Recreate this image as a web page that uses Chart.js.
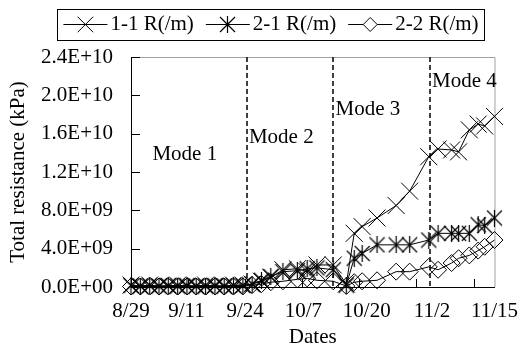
<!DOCTYPE html>
<html>
<head>
<meta charset="utf-8">
<script src="https://cdn.jsdelivr.net/npm/chart.js@4.4.1/dist/chart.umd.min.js"></script>
<style>
html, body { margin: 0; padding: 0; background: #fff; }
#wrap { width: 530px; height: 351px; }
</style>
</head>
<body>
<div id="wrap"><canvas id="myChart" width="530" height="351"></canvas></div>
<script>
// days counted from 8/29
const days = [0, 2, 4, 6, 8, 10, 12, 14, 16, 18, 20, 22, 24,
    26, 28, 30, 32.6, 35.7, 37.8, 39.9, 43.4, 46.2, 47.9, 49.6, 52.8,
    56.9, 59.8, 63.9, 65.9, 68.8, 70.3, 72.6, 74.5, 75.9, 78];

const r11 = [0.2e9, 0.1e9, 0.2e9, 0.1e9, 0.1e9, 0.2e9, 0.1e9, 0.1e9, 0.2e9, 0.1e9, 0.1e9, 0.2e9, 0.2e9,
    0.3e9, 0.6e9, 1.0e9, 1.8e9, 1.9e9, 1.6e9, 2.3e9, 2.3e9, 0.3e9, 5.6e9, 6.3e9, 7.2e9,
    8.5e9, 10.0e9, 13.6e9, 14.4e9, 14.3e9, 14.1e9, 16.4e9, 17.0e9, 16.8e9, 17.8e9];

const r21 = [0.15e9, 0.1e9, 0.15e9, 0.1e9, 0.15e9, 0.1e9, 0.15e9, 0.1e9, 0.1e9, 0.15e9, 0.1e9, 0.15e9, 0.15e9,
    0.3e9, 0.7e9, 1.1e9, 1.6e9, 1.7e9, 1.9e9, 2.0e9, 1.8e9, 0.2e9, 3.0e9, 3.5e9, 4.4e9,
    4.4e9, 4.4e9, 4.9e9, 5.6e9, 5.6e9, 5.6e9, 5.6e9, 6.5e9, 6.4e9, 7.2e9];

const r22 = [0.05e9, 0.05e9, 0.05e9, 0.05e9, 0.05e9, 0.05e9, 0.05e9, 0.05e9, 0.05e9, 0.05e9, 0.05e9, 0.05e9, 0.05e9,
    0.2e9, 0.3e9, 0.5e9, 0.6e9, 0.8e9, 0.9e9, 0.7e9, 0.6e9, 0.1e9, 0.5e9, 0.6e9, 0.7e9,
    1.6e9, 1.6e9, 2.1e9, 1.8e9, 2.5e9, 3.0e9, 3.3e9, 3.8e9, 4.2e9, 4.9e9];

const seriesNames = ["1-1 R(/m)", "2-1 R(/m)", "2-2 R(/m)"];

const tickDays = [0, 11.9, 24.5, 37, 50.6, 64.6, 78];
const tickLabels = ["8/29", "9/11", "9/24", "10/7", "10/20", "11/2", "11/15"];
const tickMarkDays = [12.25, 24.5, 36.75, 49, 61.25, 73.5];

const modeNames = ["Mode 1", "Mode 2", "Mode 3", "Mode 4"];
const modeBounds = [24.9, 43.4, 64.1];
// where each mode label sits (day, value)
const modeLabelAt = [[4.6, 13.8e9], [25.3, 15.6e9], [43.9, 18.5e9], [64.6, 21.4e9]];

const FONT = "Liberation Serif";

function asterisk(h) {
    const s = 2 * h + 1;
    const c = document.createElement("canvas");
    c.width = s;
    c.height = s;
    const g = c.getContext("2d");
    const m = s / 2;
    g.strokeStyle = "#000";
    g.lineWidth = 1.2;
    g.beginPath();
    g.moveTo(m - h + 0.5, m - h + 0.5); g.lineTo(m + h - 0.5, m + h - 0.5);
    g.moveTo(m + h - 0.5, m - h + 0.5); g.lineTo(m - h + 0.5, m + h - 0.5);
    g.moveTo(m, 0); g.lineTo(m, s);
    g.stroke();
    return c;
}
const starImg = asterisk(8);

function sci(v) {
    if (v === 0) return "0.0E+00";
    const parts = v.toExponential(1).split("e");
    const e = parseInt(parts[1], 10);
    return parts[0] + "E" + (e < 0 ? "-" : "+") + String(Math.abs(e)).padStart(2, "0");
}

function pts(vals) {
    return days.map((d, i) => ({ x: d, y: vals[i] }));
}

function drawMarker(ctx, style, x, y, r) {
    ctx.beginPath();
    if (style === "crossRot") {
        const o = r * Math.SQRT1_2;
        ctx.moveTo(x - o, y - o); ctx.lineTo(x + o, y + o);
        ctx.moveTo(x + o, y - o); ctx.lineTo(x - o, y + o);
        ctx.stroke();
    } else if (style === "rectRot") {
        ctx.moveTo(x - r, y); ctx.lineTo(x, y - r); ctx.lineTo(x + r, y); ctx.lineTo(x, y + r);
        ctx.closePath();
        ctx.fillStyle = "#fff";
        ctx.fill();
        ctx.stroke();
    } else {
        ctx.drawImage(style, Math.round(x - style.width / 2), Math.round(y - style.height / 2));
    }
}

const decor = {
    id: "decor",
    beforeDatasetsDraw(chart) {
        const { ctx, chartArea: a, scales: { x, y } } = chart;
        ctx.save();
        // light frame top / right
        ctx.strokeStyle = "#a0a0a0";
        ctx.lineWidth = 1;
        ctx.beginPath();
        ctx.moveTo(a.left, a.top + 0.5);
        ctx.lineTo(a.right + 0.5, a.top + 0.5);
        ctx.lineTo(a.right + 0.5, a.bottom);
        ctx.stroke();

        // mode boundaries
        ctx.strokeStyle = "#000";
        ctx.lineWidth = 1.5;
        ctx.setLineDash([5, 3]);
        modeBounds.forEach((d) => {
            const px = Math.round(x.getPixelForValue(d));
            ctx.beginPath();
            ctx.moveTo(px, a.top);
            ctx.lineTo(px, a.bottom);
            ctx.stroke();
        });
        ctx.setLineDash([]);

        // inward tick marks
        ctx.lineWidth = 1;
        y.ticks.forEach((t) => {
            const py = Math.round(y.getPixelForValue(t.value)) + 0.5;
            ctx.beginPath();
            ctx.moveTo(a.left, py);
            ctx.lineTo(a.left + 9, py);
            ctx.stroke();
        });
        tickMarkDays.forEach((d) => {
            const px = Math.round(x.getPixelForValue(d)) + 0.5;
            ctx.beginPath();
            ctx.moveTo(px, a.bottom);
            ctx.lineTo(px, a.bottom - 8);
            ctx.stroke();
        });

        // mode labels
        ctx.font = "21px " + FONT;
        ctx.fillStyle = "#000";
        ctx.textAlign = "left";
        ctx.textBaseline = "middle";
        modeNames.forEach((n, i) => {
            ctx.fillText(n, x.getPixelForValue(modeLabelAt[i][0]), y.getPixelForValue(modeLabelAt[i][1]));
        });
        ctx.restore();
    },
    afterDraw(chart) {
        // boxed legend with line + marker samples
        const ctx = chart.ctx;
        const sets = chart.data.datasets;
        ctx.save();
        ctx.font = "21px " + FONT;
        const sampleW = 44, gap = 3, itemGap = 12;
        const widths = sets.map((ds) => sampleW + gap + ctx.measureText(ds.label).width);
        const total = widths.reduce((s, w) => s + w, 0) + itemGap * (sets.length - 1);
        const cy = 24.5;
        let x0 = 271 - total / 2;
        ctx.strokeStyle = "#000";
        ctx.lineWidth = 1;
        ctx.strokeRect(Math.round(x0 - 6) + 0.5, 9.5, Math.round(total + 12), 31);
        sets.forEach((ds, i) => {
            ctx.beginPath();
            ctx.moveTo(x0, cy);
            ctx.lineTo(x0 + sampleW, cy);
            ctx.stroke();
            drawMarker(ctx, ds.pointStyle, x0 + sampleW / 2, cy, ds.legendR);
            ctx.fillStyle = "#000";
            ctx.textAlign = "left";
            ctx.textBaseline = "middle";
            ctx.fillText(ds.label, x0 + sampleW + gap, cy);
            x0 += widths[i] + itemGap;
        });
        ctx.restore();
    },
};

Chart.defaults.font.family = FONT;
Chart.defaults.font.size = 21;
Chart.defaults.color = "#000";

const config = {
    type: "line",
    data: {
        datasets: [
            {
                label: seriesNames[0],
                data: pts(r11),
                borderColor: "#000",
                borderWidth: 1,
                pointStyle: "crossRot",
                pointRadius: 12,
                pointBorderColor: "#000",
                pointBorderWidth: 1,
                pointBackgroundColor: "rgba(0,0,0,0)",
                legendR: 11,
                tension: 0,
                clip: false,
            },
            {
                label: seriesNames[1],
                data: pts(r21),
                borderColor: "#000",
                borderWidth: 1,
                pointStyle: starImg,
                pointRadius: 8,
                legendR: 8,
                tension: 0,
                clip: false,
            },
            {
                label: seriesNames[2],
                data: pts(r22),
                borderColor: "#000",
                borderWidth: 1,
                pointStyle: "rectRot",
                pointRadius: 8.5,
                pointBorderColor: "#000",
                pointBorderWidth: 1,
                pointBackgroundColor: "rgba(0,0,0,0)",
                legendR: 7,
                tension: 0,
                clip: false,
            },
        ],
    },
    options: {
        responsive: false,
        animation: false,
        events: [],
        layout: { padding: { top: 57, right: 26, bottom: 0, left: 0 } },
        plugins: {
            legend: { display: false },
            tooltip: { enabled: false },
        },
        scales: {
            x: {
                type: "linear",
                min: 0,
                max: 78,
                afterBuildTicks: (s) => {
                    s.ticks = tickDays.map((v) => ({ value: v }));
                },
                afterFit: (s) => {
                    s.height = 64;
                },
                ticks: {
                    callback: (v, i) => tickLabels[i],
                    autoSkip: false,
                    maxRotation: 0,
                    padding: 12,
                },
                grid: { display: false, drawTicks: false },
                border: { display: true, color: "#000", width: 1 },
                title: { display: true, text: "Dates", padding: { top: 0, bottom: 1 } },
            },
            y: {
                min: 0,
                max: 2.4e10,
                afterFit: (s) => {
                    s.width = 131;
                },
                ticks: {
                    stepSize: 4e9,
                    callback: (v) => sci(v),
                    padding: 18,
                },
                grid: { display: false, drawTicks: false },
                border: { display: true, color: "#000", width: 1 },
                title: { display: true, text: "Total resistance (kPa)", padding: { top: 6, bottom: 0 } },
            },
        },
    },
    plugins: [decor],
};

new Chart(document.getElementById("myChart"), config);
</script>
</body>
</html>
